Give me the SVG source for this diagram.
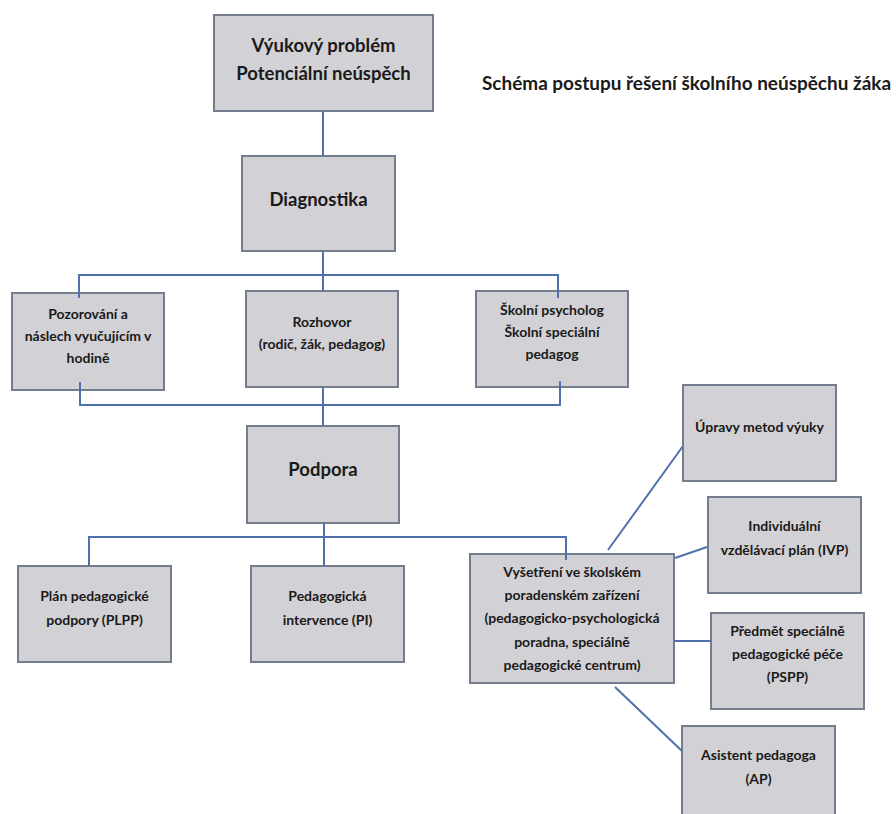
<svg xmlns="http://www.w3.org/2000/svg" width="896" height="814" viewBox="0 0 896 814">
<style>
  .box { fill: #d2d1d5; stroke: #737d8e; stroke-width: 2; }
  .t { font-family: Lato, "Open Sans", "Liberation Sans", sans-serif; font-weight: bold; fill: #1a1a1a; text-anchor: middle; }
  .big { font-size: 18.5px; }
  .sm { font-size: 14px; }
  .title { font-size: 18px; text-anchor: start; }
  .c { fill: none; stroke: #4f72ad; stroke-width: 2; }
</style>
<rect width="896" height="814" fill="#ffffff"/>

<g id="title">
  <text class="t title" x="482" y="90" textLength="409" lengthAdjust="spacingAndGlyphs">Schéma postupu řešení školního neúspěchu žáka</text>
</g>

<g id="n-problem">
  <rect class="box" x="214" y="15" width="219" height="96"/>
  <text class="t big" x="323.5" y="52">Výukový problém</text>
  <text class="t big" x="323.5" y="80">Potenciální neúspěch</text>
</g>

<g id="n-diagnostika">
  <rect class="box" x="242" y="156" width="153" height="95"/>
  <text class="t big" x="318.5" y="206">Diagnostika</text>
</g>

<g id="n-pozorovani">
  <rect class="box" x="12" y="293" width="152" height="97"/>
  <text class="t sm" x="88" y="319">Pozorování a</text>
  <text class="t sm" x="88" y="341">náslech vyučujícím v</text>
  <text class="t sm" x="88" y="363">hodině</text>
</g>

<g id="n-rozhovor">
  <rect class="box" x="246" y="291" width="152" height="96"/>
  <text class="t sm" x="322" y="327">Rozhovor</text>
  <text class="t sm" x="322" y="349">(rodič, žák, pedagog)</text>
</g>

<g id="n-psycholog">
  <rect class="box" x="476" y="291" width="152" height="96"/>
  <text class="t sm" x="552" y="315">Školní psycholog</text>
  <text class="t sm" x="552" y="337">Školní speciální</text>
  <text class="t sm" x="552" y="359">pedagog</text>
</g>

<g id="n-podpora">
  <rect class="box" x="247" y="426" width="152" height="97"/>
  <text class="t big" x="323" y="476">Podpora</text>
</g>

<g id="n-plpp">
  <rect class="box" x="18" y="566" width="153" height="96"/>
  <text class="t sm" x="94.5" y="601">Plán pedagogické</text>
  <text class="t sm" x="94.5" y="625">podpory (PLPP)</text>
</g>

<g id="n-pi">
  <rect class="box" x="251" y="566" width="153" height="96"/>
  <text class="t sm" x="327.5" y="601">Pedagogická</text>
  <text class="t sm" x="327.5" y="625">intervence (PI)</text>
</g>

<g id="n-vysetreni">
  <rect class="box" x="470" y="554" width="204" height="129"/>
  <text class="t sm" x="572" y="577">Vyšetření ve školském</text>
  <text class="t sm" x="572" y="600">poradenském zařízení</text>
  <text class="t sm" x="572" y="623">(pedagogicko-psychologická</text>
  <text class="t sm" x="572" y="647">poradna, speciálně</text>
  <text class="t sm" x="572" y="670">pedagogické centrum)</text>
</g>

<g id="n-upravy">
  <rect class="box" x="683" y="385" width="153" height="96"/>
  <text class="t sm" x="759.5" y="432">Úpravy metod výuky</text>
</g>

<g id="n-ivp">
  <rect class="box" x="708" y="497" width="153" height="96"/>
  <text class="t sm" x="784.5" y="531">Individuální</text>
  <text class="t sm" x="784.5" y="555">vzdělávací plán (IVP)</text>
</g>

<g id="n-pspp">
  <rect class="box" x="711" y="613" width="153" height="96"/>
  <text class="t sm" x="787.5" y="636">Předmět speciálně</text>
  <text class="t sm" x="787.5" y="659">pedagogické péče</text>
  <text class="t sm" x="787.5" y="682">(PSPP)</text>
</g>

<g id="n-ap">
  <rect class="box" x="682" y="726" width="153" height="96"/>
  <text class="t sm" x="758.5" y="760">Asistent pedagoga</text>
  <text class="t sm" x="758.5" y="784">(AP)</text>
</g>

<g id="connectors">
  <path class="c" d="M323 111 V156"/>
  <path class="c" d="M323 251 V291 M79 298 V275 H558 V298"/>
  <path class="c" d="M80 382 V405 H560 V381 M323 387 V426"/>
  <path class="c" d="M324 523 V566 M89 566 V537 H566 V560"/>
  <path class="c" d="M608 550 L683 446"/>
  <path class="c" d="M675 558 L707 547"/>
  <path class="c" d="M674 641 H711"/>
  <path class="c" d="M615 687 L682 751"/>
</g>
</svg>
